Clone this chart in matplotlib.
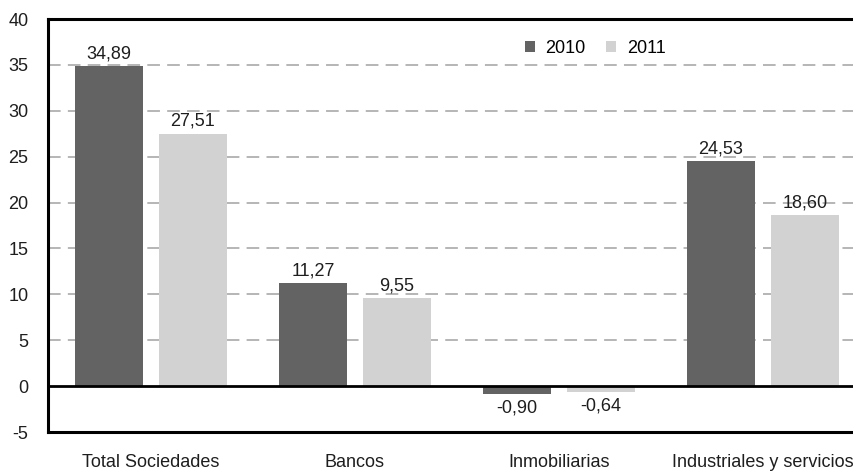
import matplotlib.pyplot as plt
import numpy as np

plt.rcParams['font.family'] = ['Liberation Sans', 'DejaVu Sans']

categories = ["Total Sociedades", "Bancos", "Inmobiliarias", "Industriales y servicios"]
series_names = ["2010", "2011"]
values_2010 = [34.89, 11.27, -0.90, 24.53]
values_2011 = [27.51, 9.55, -0.64, 18.60]
yticks = [-5, 0, 5, 10, 15, 20, 25, 30, 35, 40]


def fmt(v):
    return f"{v:.2f}".replace(".", ",")


def main():
    fig = plt.figure(figsize=(8.54, 4.72), dpi=100)
    ax = fig.add_axes([0.0562, 0.0847, 0.96, 0.875])

    x = np.arange(len(categories))
    width = 0.333
    off = 0.206
    colors = ["#636363", "#d2d2d3"]
    fs = 13
    tc = "#1e1e1e"

    for i, (vals, col, name) in enumerate(zip([values_2010, values_2011], colors, series_names)):
        pos = x + (-off if i == 0 else off)
        ax.bar(pos, vals, width, color=col, label=name, zorder=3)
        for p, v in zip(pos, vals):
            if v >= 0:
                ax.text(p, v + 0.4, fmt(v), ha="center", va="bottom", fontsize=fs, color=tc)
            else:
                ax.text(p, v - 0.6, fmt(v), ha="center", va="top", fontsize=fs, color=tc)

    ax.set_ylim(-5, 40)
    ax.set_xlim(-0.505, 3.515)
    ax.set_yticks(yticks)
    ax.set_yticklabels([str(t) for t in yticks], fontsize=fs, color=tc)
    ax.set_xticks(x)
    ax.set_xticklabels(categories, fontsize=fs, color=tc)
    ax.tick_params(axis="both", length=0)
    ax.tick_params(axis="x", pad=16)
    ax.tick_params(axis="y", pad=14)

    for t in yticks:
        if t not in (-5, 0, 40):
            ax.axhline(t, color="#b0b0b0", lw=1.3, ls=(0, (7, 4)), zorder=1)
    ax.axhline(0, color="black", lw=2, zorder=4)

    for s in ["left", "top", "bottom"]:
        ax.spines[s].set_linewidth(2.2)
    ax.spines["right"].set_visible(False)

    ax.legend(loc="center", bbox_to_anchor=(0.697, 0.898), bbox_transform=fig.transFigure,
              ncol=2, frameon=False, fontsize=fs, handlelength=0.55, handleheight=0.55,
              columnspacing=1.15, handletextpad=0.6)

    fig.savefig("out.png", dpi=100)


if __name__ == "__main__":
    main()
